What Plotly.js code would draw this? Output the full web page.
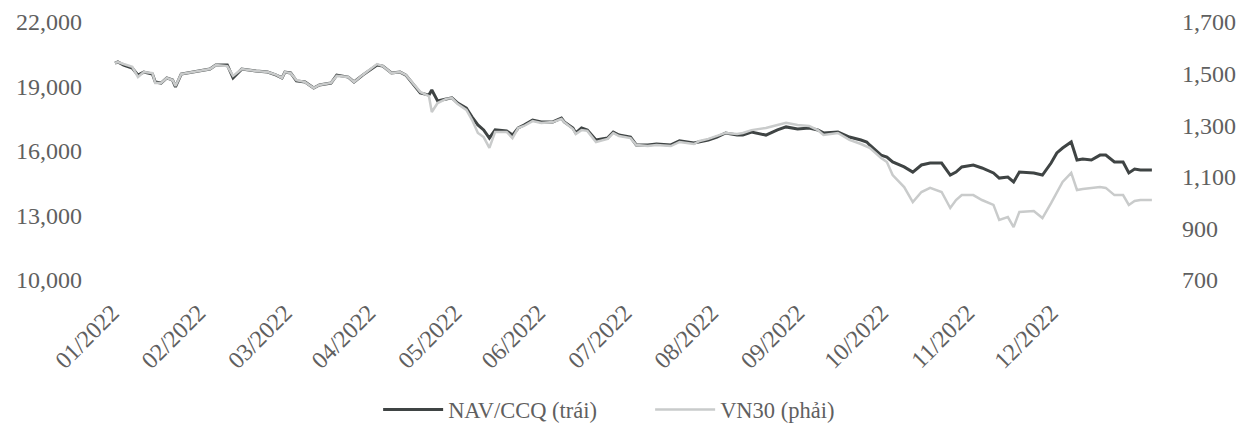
<!DOCTYPE html>
<html>
<head>
<meta charset="utf-8">
<script src="https://cdn.plot.ly/plotly-3.0.1.min.js"></script>
<style>
  html, body { margin: 0; padding: 0; background: #ffffff; }
  #chart { width: 1238px; height: 434px; }
</style>
</head>
<body>
<div id="chart"></div>
<script>
const dates = [
  "2022-01-04","2022-01-05","2022-01-07","2022-01-10","2022-01-12","2022-01-14","2022-01-17","2022-01-18",
  "2022-01-20","2022-01-22","2022-01-24","2022-01-25","2022-01-27","2022-02-06","2022-02-08","2022-02-12",
  "2022-02-14","2022-02-17","2022-02-22","2022-02-26","2022-03-01","2022-03-03","2022-03-04","2022-03-06",
  "2022-03-08","2022-03-11","2022-03-14","2022-03-16","2022-03-20","2022-03-22","2022-03-26","2022-03-28",
  "2022-03-31","2022-04-05","2022-04-07","2022-04-10","2022-04-13","2022-04-15","2022-04-20","2022-04-23",
  "2022-04-24","2022-04-26","2022-04-29","2022-05-01","2022-05-03","2022-05-06","2022-05-08","2022-05-10",
  "2022-05-12","2022-05-14","2022-05-16","2022-05-20","2022-05-22","2022-05-24","2022-05-26","2022-05-29",
  "2022-06-01","2022-06-05","2022-06-08","2022-06-09","2022-06-12","2022-06-13","2022-06-15","2022-06-17",
  "2022-06-20","2022-06-24","2022-06-26","2022-06-28","2022-07-02","2022-07-04","2022-07-08","2022-07-11",
  "2022-07-16","2022-07-19","2022-07-24","2022-07-26","2022-07-29","2022-08-01","2022-08-04","2022-08-08",
  "2022-08-10","2022-08-13","2022-08-18","2022-08-22","2022-08-25","2022-08-29","2022-09-02","2022-09-05",
  "2022-09-07","2022-09-12","2022-09-16","2022-09-20","2022-09-22","2022-09-23","2022-09-27","2022-09-29",
  "2022-10-01","2022-10-05","2022-10-08","2022-10-11","2022-10-14","2022-10-18","2022-10-21","2022-10-23",
  "2022-10-25","2022-10-29","2022-11-01","2022-11-05","2022-11-07","2022-11-10","2022-11-12","2022-11-14",
  "2022-11-19","2022-11-22","2022-11-25","2022-11-27","2022-11-29","2022-12-02","2022-12-04","2022-12-06",
  "2022-12-09","2022-12-12","2022-12-14","2022-12-17","2022-12-20","2022-12-22","2022-12-24","2022-12-26",
  "2022-12-30"
];

// NAV per fund certificate (left axis)
const navCCQ = [
  20090,20140,20000,19860,19530,19670,19580,19210,
  19160,19400,19300,18980,19580,19810,20000,20000,
  19400,19810,19720,19670,19530,19400,19670,19630,
  19260,19210,18930,19070,19160,19530,19440,19210,
  19530,20000,19950,19630,19670,19530,18700,18600,
  18840,18330,18420,18470,18230,18000,17580,17210,
  16980,16600,16980,16930,16740,17070,17210,17440,
  17350,17350,17530,17350,17070,16840,17070,16980,
  16510,16600,16880,16740,16650,16280,16280,16330,
  16280,16470,16370,16420,16510,16650,16840,16740,
  16740,16880,16740,16980,17120,17020,17070,16980,
  16840,16880,16650,16510,16420,16280,15810,15720,
  15490,15260,15020,15350,15440,15440,14880,15020,
  15260,15350,15210,14980,14740,14790,14560,15020,
  14980,14880,15440,15910,16140,16420,15580,15630,
  15580,15810,15810,15490,15490,14980,15160,15120,
  15120
];

// VN30 index (right axis)
const vn30 = [
  1541,1545,1537,1526,1487,1506,1502,1464,
  1464,1483,1475,1452,1498,1518,1533,1529,
  1491,1518,1510,1506,1495,1483,1506,1502,
  1475,1467,1444,1456,1464,1491,1487,1467,
  1495,1537,1529,1502,1506,1495,1429,1413,
  1351,1386,1402,1405,1382,1359,1320,1270,
  1254,1212,1274,1274,1250,1289,1297,1316,
  1309,1312,1324,1312,1285,1266,1281,1278,
  1235,1247,1270,1258,1250,1223,1219,1223,
  1219,1235,1227,1239,1247,1258,1270,1266,
  1270,1281,1289,1301,1309,1301,1297,1281,
  1262,1270,1243,1227,1216,1212,1173,1157,
  1107,1060,1002,1041,1057,1041,979,1010,
  1029,1029,1010,991,933,944,905,964,
  967,940,998,1041,1080,1115,1049,1053,
  1057,1060,1057,1029,1029,991,1006,1010,
  1010
];

// X tick positions (dates) and labels
const xTickDates = ["2022-01-03","2022-02-02","2022-03-04","2022-04-02","2022-05-02","2022-05-31",
                    "2022-06-30","2022-07-30","2022-08-29","2022-09-27","2022-10-27","2022-11-25"];
const xTickLabels = ["01/2022","02/2022","03/2022","04/2022","05/2022","06/2022",
                     "07/2022","08/2022","09/2022","10/2022","11/2022","12/2022"];
const leftTicks = [10000, 13000, 16000, 19000, 22000];
const leftTickLabels = ["10,000","13,000","16,000","19,000","22,000"];
const rightTicks = [700, 900, 1100, 1300, 1500, 1700];
const rightTickLabels = ["700","900","1,100","1,300","1,500","1,700"];
const seriesNames = ["NAV/CCQ (trái)", "VN30 (phải)"];

const FONT = "Liberation Serif, Times New Roman, serif";
const TXT = "#5f6060";

const traces = [
  {
    x: dates, y: navCCQ, name: seriesNames[0], type: "scatter", mode: "lines",
    line: { color: "#3f4444", width: 3 }, yaxis: "y"
  },
  {
    x: dates, y: vn30, name: seriesNames[1], type: "scatter", mode: "lines",
    line: { color: "#c9cbcb", width: 2.5 }, yaxis: "y2"
  }
];

const layout = {
  width: 1238, height: 434,
  margin: { l: 108, r: 83, t: 22, b: 154, autoexpand: false },
  paper_bgcolor: "#ffffff", plot_bgcolor: "#ffffff",
  font: { family: FONT, color: TXT, size: 23 },
  showlegend: true,
  legend: {
    orientation: "h", x: 0.258, xanchor: "left", y: -0.42, yanchor: "top",
    font: { family: FONT, size: 22.5, color: TXT },
    itemwidth: 60, tracegroupgap: 0, entrywidth: 197, entrywidthmode: "pixels"
  },
  xaxis: {
    type: "date", automargin: false,
    range: ["2022-01-01 14:00", "2022-12-31 02:00"],
    tickmode: "array", tickvals: xTickDates, ticktext: xTickLabels,
    tickangle: -45, showgrid: false, zeroline: false, showline: false, ticks: "",
    tickfont: { family: FONT, size: 24, color: TXT },
    ticklabelstandoff: 13
  },
  yaxis: {
    range: [10000, 22000], automargin: false,
    tickmode: "array", tickvals: leftTicks, ticktext: leftTickLabels,
    showgrid: false, zeroline: false, showline: false, ticks: "",
    tickfont: { family: FONT, size: 24, color: TXT },
    ticklabelstandoff: 25
  },
  yaxis2: {
    range: [700, 1700], overlaying: "y", side: "right", automargin: false,
    tickmode: "array", tickvals: rightTicks, ticktext: rightTickLabels,
    showgrid: false, zeroline: false, showline: false, ticks: "",
    tickfont: { family: FONT, size: 24, color: TXT },
    ticklabelstandoff: 26
  }
};

Plotly.newPlot("chart", traces, layout, { displayModeBar: false, staticPlot: true });
</script>
</body>
</html>
